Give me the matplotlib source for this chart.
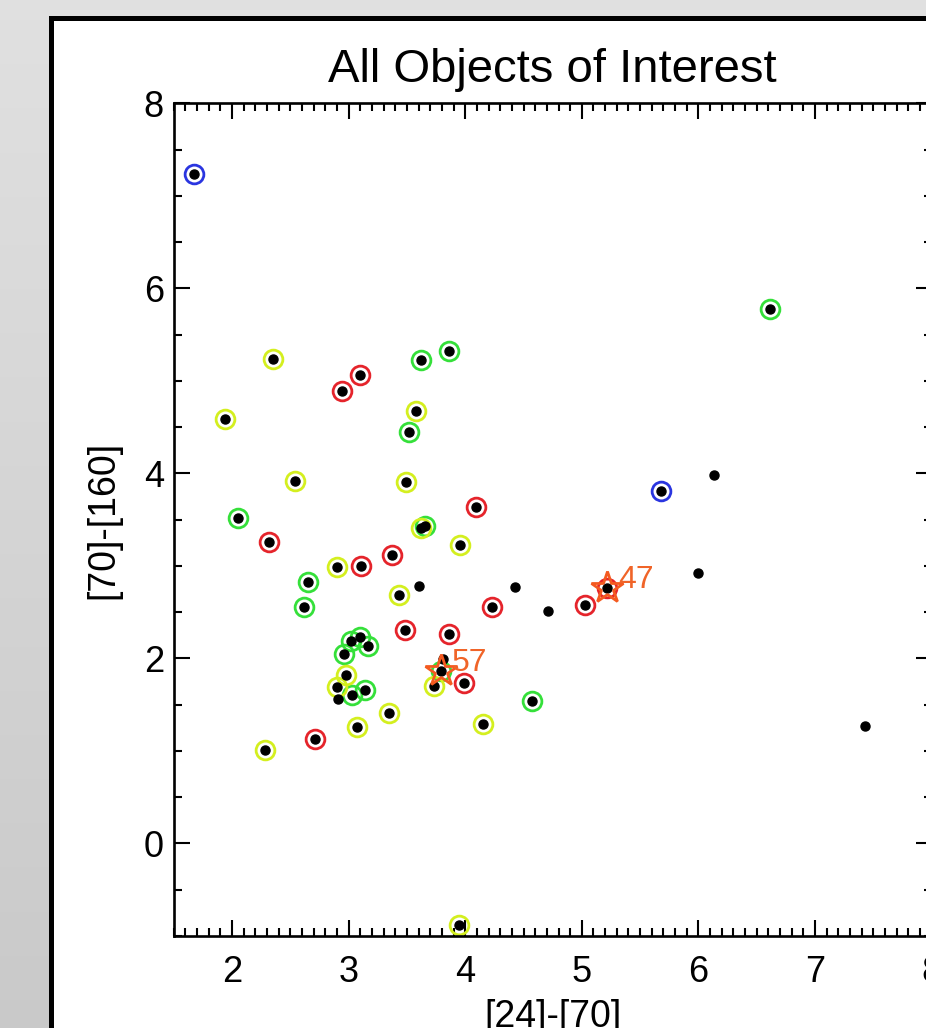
import numpy as np
import matplotlib.pyplot as plt
from matplotlib.patches import Rectangle
from matplotlib.ticker import MultipleLocator

plt.rcParams['font.family'] = ['Liberation Sans', 'DejaVu Sans']

# ringed objects, one group per ring colour
blue_x = [1.67, 5.68]
blue_y = [7.24, 3.81]

green_x = [3.62, 3.86, 3.52, 2.05, 3.655, 2.65, 2.62, 3.02, 3.10, 3.17, 2.96, 3.03, 3.14, 4.57, 6.61, 3.79]
green_y = [5.23, 5.32, 4.45, 3.52, 3.43, 2.83, 2.55, 2.19, 2.23, 2.13, 2.05, 1.60, 1.66, 1.54, 5.78, 1.86]

yellow_x = [2.35, 1.94, 3.58, 2.54, 3.49, 3.62, 3.955, 2.90, 3.43, 2.98, 2.90, 3.735, 3.35, 3.07, 4.15, 2.28, 3.95]
yellow_y = [5.24, 4.59, 4.67, 3.92, 3.91, 3.41, 3.22, 2.99, 2.68, 1.82, 1.69, 1.70, 1.41, 1.26, 1.29, 1.01, -0.88]

red_x = [3.10, 2.94, 4.09, 2.32, 3.37, 3.11, 4.23, 3.48, 3.86, 3.99, 2.71, 5.03, 5.22]
red_y = [5.06, 4.89, 3.64, 3.26, 3.12, 3.00, 2.55, 2.31, 2.26, 1.73, 1.13, 2.58, 2.76]

# objects without a ring
plain_x = [3.60, 4.43, 4.71, 3.81, 2.91, 6.13, 6.00, 7.43]
plain_y = [2.78, 2.77, 2.51, 1.99, 1.56, 3.98, 2.92, 1.27]

# highlighted objects
star_x = [5.22, 3.79]
star_y = [2.76, 1.86]
star_labels = ['47', '57']

fig = plt.figure(figsize=(9.26, 10.28), dpi=100)

# grey backdrop with the white framed panel
bg = fig.add_axes([0, 0, 1, 1], zorder=-5)
shade = np.linspace(0.88, 0.79, 256).reshape(-1, 1)
bg.imshow(np.dstack([shade, shade, shade]), aspect='auto', extent=[0, 926, 1028, 0])
bg.add_patch(Rectangle((50.5, 17.5), 1000, 1100, facecolor='white', edgecolor='black', lw=3.6))
bg.set_xlim(0, 926)
bg.set_ylim(1028, 0)
bg.axis('off')

ax = fig.add_axes([0.1876, 0.0897, 0.8185, 0.8098])
ax.set_facecolor('none')

ring = dict(ls='none', marker='o', mfc='none', ms=13.5, mew=2)
ax.plot(blue_x, blue_y, mec='#2a35e0', **ring)
ax.plot(green_x, green_y, mec='#35e03a', **ring)
ax.plot(yellow_x, yellow_y, mec='#d4ef1f', **ring)
ax.plot(red_x, red_y, mec='#e5242b', **ring)

all_x = blue_x + green_x + yellow_x + red_x + plain_x
all_y = blue_y + green_y + yellow_y + red_y + plain_y
ax.plot(all_x, all_y, ls='none', marker='o', color='black', ms=6.5)

ax.plot(star_x, star_y, ls='none', marker='*', mfc='none', mec='#f45a20', ms=24, mew=2)
for sx, sy, lab in zip(star_x, star_y, star_labels):
    ax.annotate(lab, (sx, sy), xytext=(8, 0), textcoords='offset points',
                color='#f06428', fontsize=23, ha='left', va='baseline')

ax.set_xlim(1.5, 8)
ax.set_ylim(-1, 8)
ax.xaxis.set_major_locator(MultipleLocator(1))
ax.xaxis.set_minor_locator(MultipleLocator(0.1))
ax.yaxis.set_major_locator(MultipleLocator(2))
ax.yaxis.set_minor_locator(MultipleLocator(0.5))
ax.tick_params(which='both', direction='in', top=True, right=True, width=1.5, colors='black')
ax.tick_params(which='major', length=11.5, labelsize=26)
ax.tick_params(which='minor', length=5.8)
ax.tick_params(axis='x', pad=14)
ax.tick_params(axis='y', pad=7)
for s in ax.spines.values():
    s.set_linewidth(1.9)

ax.set_title('All Objects of Interest', fontsize=34, pad=15)
ax.set_xlabel('[24]-[70]', fontsize=27, labelpad=6)
ax.set_ylabel('[70]-[160]', fontsize=27, labelpad=16)

fig.savefig('out.png', dpi=100)
